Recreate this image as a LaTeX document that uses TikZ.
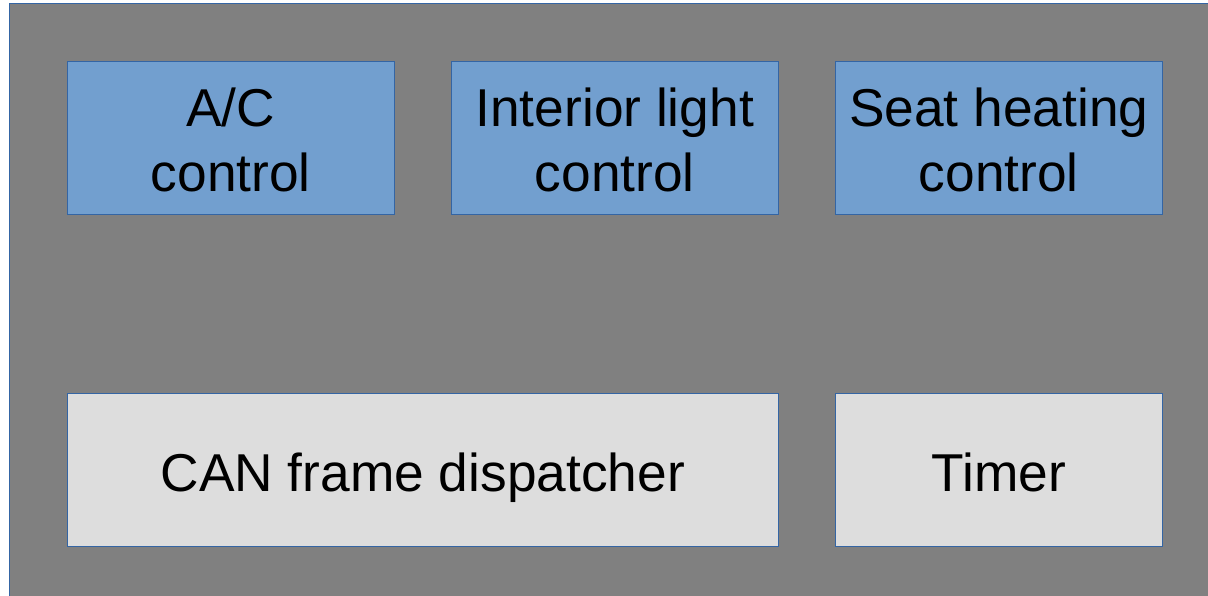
\documentclass[tikz,border=0pt]{standalone}
\usepackage{fontspec}
\setmainfont{Liberation Sans}
\definecolor{framegray}{HTML}{808080}
\definecolor{edgeblue}{HTML}{3465A4}
\definecolor{ctrlblue}{HTML}{729FCF}
\definecolor{svcgray}{HTML}{DDDDDD}
\tikzset{
  module/.style={draw=edgeblue, line width=1pt},
  ctrlbox/.style={module, fill=ctrlblue},
  svcbox/.style={module, fill=svcgray},
  label/.style={align=center, font=\fontsize{53.3}{65}\selectfont, inner sep=0pt, anchor=base}
}
\begin{document}
\begin{tikzpicture}[x=1pt,y=-1pt]
  \useasboundingbox (0,0) rectangle (1208,596);
  \begin{scope}
    \clip (0,0) rectangle (1208,596);
    % enclosing component
    \draw[draw=edgeblue, line width=1.5pt, fill=framegray] (9.5,3.5) rectangle (1230,620);
  \end{scope}
  % controller modules
  \draw[ctrlbox] (67.5,61.5) rectangle (394,214.5);
  \draw[ctrlbox] (451.5,61.5) rectangle (778,214.5);
  \draw[ctrlbox] (835.5,61.5) rectangle (1162,214.5);
  % service modules
  \draw[svcbox] (67.5,393.5) rectangle (778,546.5);
  \draw[svcbox] (835.5,393.5) rectangle (1162,546.5);
  % labels, placed on their last baseline
  \node[label] (ac) at (230.75,192) {A/C\\control};
  \node[label] (light) at (614.75,192) {Interior light\\control};
  \node[label] (seat) at (998.75,192) {Seat heating\\control};
  \node[label] (can) at (422.75,491.5) {CAN frame dispatcher};
  \node[label] (timer) at (998.75,491.5) {Timer};
\end{tikzpicture}
\end{document}
